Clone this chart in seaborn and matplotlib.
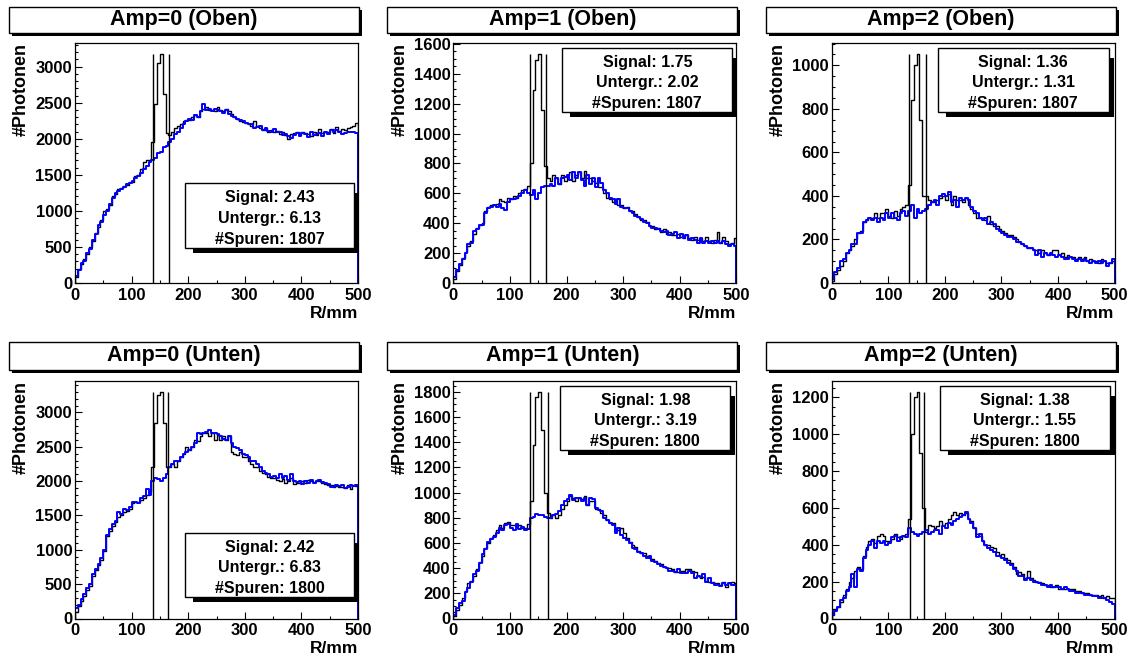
import numpy as np
import pandas as pd
import matplotlib
matplotlib.use("Agg")
import matplotlib.pyplot as plt
from matplotlib.patches import Rectangle
from matplotlib.ticker import MultipleLocator
import seaborn as sns

# Radial bins: 100 bins of 5 mm between 0 and 500 mm
r_edges = np.arange(0, 505, 5)
r_centers = (r_edges[:-1] + r_edges[1:]) / 2

titles = ["Amp=0 (Oben)", "Amp=1 (Oben)", "Amp=2 (Oben)",
          "Amp=0 (Unten)", "Amp=1 (Unten)", "Amp=2 (Unten)"]
signal = ["2.43", "1.75", "1.36", "2.42", "1.98", "1.38"]
untergrund = ["6.13", "2.02", "1.31", "6.83", "3.19", "1.55"]
spuren = [1807, 1807, 1807, 1800, 1800, 1800]

# signal window (mm) per panel
win_lo = [138, 136, 136.5, 138, 136, 139]
win_hi = [166, 164, 167.5, 163.5, 167.5, 164]

# y axis tick spacing per panel
y_major = [500, 200, 200, 500, 200, 200]
y_minor = [100, 50, 50, 100, 50, 50]

# photon counts per radial bin: all tracks (black) and background estimate (blue)
gesamt_amp0_oben = [
    80, 200, 260, 330, 400, 500, 580, 700, 780, 880,
    1000, 1020, 1080, 1200, 1230, 1300, 1320, 1340, 1360, 1400,
    1400, 1480, 1500, 1580, 1680, 1700, 1700, 1950, 2480, 3050,
    3170, 2620, 2080, 2050, 2100, 2150, 2180, 2200, 2250, 2260,
    2260, 2300, 2330, 2300, 2380, 2420, 2440, 2400, 2400, 2380,
    2440, 2400, 2380, 2420, 2380, 2340, 2300, 2280, 2250, 2230,
    2220, 2200, 2180, 2250, 2180, 2150, 2120, 2150, 2100, 2120,
    2090, 2110, 2060, 2100, 2050, 2000, 2060, 2080, 2090, 2050,
    2100, 2080, 2060, 2040, 2100, 2050, 2130, 2080, 2090, 2100,
    2130, 2080, 2160, 2110, 2140, 2120, 2150, 2170, 2180, 2220]
untergr_amp0_oben = [
    100, 180, 280, 300, 420, 470, 600, 680, 800, 850,
    950, 1000, 1100, 1180, 1250, 1280, 1300, 1330, 1370, 1380,
    1420, 1460, 1480, 1520, 1580, 1620, 1680, 1700, 1730, 1800,
    1820, 1880, 1900, 1950, 2000, 2070, 2100, 2150, 2200, 2250,
    2280, 2260, 2330, 2300, 2380, 2480, 2400, 2420, 2380, 2420,
    2400, 2380, 2360, 2400, 2340, 2320, 2300, 2280, 2260, 2250,
    2220, 2200, 2200, 2150, 2160, 2180, 2120, 2150, 2110, 2100,
    2130, 2090, 2100, 2050, 2060, 2040, 2010, 2050, 2080, 2040,
    2080, 2060, 2030, 2090, 2050, 2070, 2080, 2040, 2100, 2060,
    2120, 2090, 2120, 2100, 2060, 2080, 2100, 2100, 2090, 2080]

gesamt_amp1_oben = [
    30, 80, 120, 170, 210, 250, 280, 330, 370, 390,
    400, 480, 510, 520, 520, 530, 560, 550, 540, 570,
    560, 580, 570, 600, 620, 630, 650, 800, 1290, 1490,
    1530, 1160, 780, 700, 680, 720, 700, 660, 720, 680,
    720, 740, 680, 720, 740, 700, 750, 700, 700, 680,
    670, 640, 640, 600, 570, 560, 540, 560, 520, 520,
    500, 510, 480, 480, 460, 440, 420, 420, 410, 380,
    380, 360, 370, 340, 360, 330, 340, 320, 320, 330,
    310, 300, 320, 300, 290, 310, 290, 300, 280, 310,
    280, 270, 290, 340, 270, 310, 280, 260, 270, 300]
untergr_amp1_oben = [
    40, 90, 130, 160, 200, 260, 270, 350, 360, 390,
    390, 470, 500, 510, 520, 510, 530, 500, 490, 540,
    560, 560, 570, 580, 600, 620, 600, 590, 620, 560,
    600, 640, 650, 650, 660, 650, 700, 660, 700, 710,
    720, 690, 740, 700, 740, 690, 650, 720, 660, 700,
    640, 700, 670, 620, 600, 570, 560, 530, 560, 510,
    500, 500, 480, 470, 450, 440, 430, 410, 400, 380,
    370, 370, 360, 350, 340, 350, 320, 330, 340, 300,
    330, 300, 320, 290, 300, 290, 270, 300, 270, 280,
    270, 280, 270, 280, 270, 280, 260, 250, 260, 250]

gesamt_amp2_oben = [
    10, 40, 60, 80, 100, 140, 150, 170, 200, 230,
    240, 280, 290, 300, 300, 320, 300, 320, 320, 340,
    310, 300, 330, 310, 340, 350, 360, 450, 840, 1000,
    1050, 750, 400, 400, 380, 370, 380, 380, 390, 400,
    380, 410, 360, 400, 380, 380, 370, 390, 360, 340,
    320, 300, 300, 300, 290, 310, 270, 260, 260, 250,
    240, 230, 220, 220, 210, 200, 190, 180, 170, 160,
    160, 150, 150, 140, 150, 140, 130, 140, 150, 150,
    130, 140, 120, 130, 120, 120, 110, 120, 110, 120,
    100, 110, 100, 100, 90, 110, 100, 90, 90, 100]
untergr_amp2_oben = [
    20, 50, 70, 100, 110, 140, 150, 180, 180, 230,
    230, 280, 290, 300, 290, 300, 280, 300, 290, 320,
    300, 320, 300, 290, 320, 330, 310, 330, 360, 300,
    340, 320, 330, 340, 360, 370, 380, 360, 400, 410,
    400, 420, 370, 380, 350, 390, 380, 390, 380, 350,
    330, 320, 300, 290, 300, 270, 280, 270, 250, 240,
    230, 220, 210, 210, 200, 190, 190, 180, 170, 160,
    160, 150, 130, 150, 120, 140, 130, 140, 130, 120,
    130, 120, 110, 110, 120, 110, 100, 110, 100, 110,
    100, 90, 100, 90, 100, 90, 100, 80, 90, 110]

gesamt_amp0_unten = [
    100, 180, 260, 330, 420, 480, 620, 700, 780, 850,
    980, 1200, 1280, 1350, 1400, 1480, 1500, 1550, 1560, 1600,
    1680, 1700, 1700, 1720, 1760, 1800, 1850, 2200, 2840, 3250,
    3300, 2850, 2200, 2200, 2250, 2200, 2300, 2350, 2400, 2500,
    2450, 2500, 2600, 2580, 2650, 2700, 2700, 2650, 2700, 2600,
    2680, 2600, 2650, 2600, 2650, 2420, 2400, 2380, 2420, 2350,
    2350, 2300, 2250, 2200, 2200, 2150, 2120, 2100, 2060, 2050,
    2050, 2020, 2000, 2030, 1980, 2000, 2050, 1960, 1980, 1980,
    2000, 1980, 2020, 2000, 1990, 2010, 2000, 1980, 1960, 1950,
    1940, 1920, 1930, 1910, 1920, 1900, 1950, 1880, 1950, 1930]
untergr_amp0_unten = [
    150, 200, 280, 350, 450, 500, 650, 720, 800, 880,
    1000, 1220, 1300, 1380, 1420, 1550, 1520, 1600, 1580, 1620,
    1700, 1700, 1680, 1750, 1780, 1880, 1800, 2000, 2050, 2030,
    2000, 2050, 2100, 2200, 2250, 2300, 2300, 2350, 2400, 2420,
    2450, 2500, 2550, 2700, 2680, 2700, 2720, 2750, 2700, 2700,
    2680, 2650, 2620, 2600, 2650, 2550, 2500, 2480, 2450, 2400,
    2380, 2350, 2300, 2300, 2250, 2200, 2150, 2120, 2100, 2060,
    2080, 2050, 2100, 2040, 2080, 2010, 2100, 2000, 1990, 2000,
    1960, 2000, 1980, 2010, 1980, 2000, 2020, 1990, 1980, 1960,
    1920, 1920, 1950, 1930, 1950, 1900, 1920, 1950, 1930, 1950]

gesamt_amp1_unten = [
    20, 70, 110, 160, 220, 280, 300, 340, 390, 450,
    500, 560, 600, 640, 660, 700, 740, 720, 760, 770,
    740, 740, 730, 740, 720, 720, 750, 930, 1380, 1760,
    1800, 1500, 1000, 840, 800, 820, 800, 820, 870, 900,
    930, 970, 960, 930, 960, 950, 970, 900, 930, 930,
    870, 870, 840, 820, 780, 760, 760, 720, 700, 720,
    680, 640, 610, 580, 570, 540, 520, 520, 500, 480,
    470, 460, 440, 430, 410, 400, 400, 390, 370, 370,
    380, 380, 390, 390, 380, 370, 340, 320, 330, 300,
    290, 290, 280, 280, 270, 290, 250, 280, 290, 280]
untergr_amp1_unten = [
    30, 80, 120, 140, 210, 240, 290, 350, 380, 440,
    510, 550, 610, 630, 650, 680, 720, 700, 740, 750,
    720, 700, 750, 710, 730, 700, 710, 800, 810, 830,
    820, 820, 810, 800, 800, 820, 830, 850, 900, 930,
    950, 980, 940, 960, 960, 930, 960, 900, 960, 950,
    880, 860, 850, 800, 780, 760, 740, 680, 720, 660,
    640, 620, 600, 560, 550, 530, 520, 500, 480, 500,
    460, 450, 430, 420, 410, 400, 380, 380, 370, 390,
    360, 360, 360, 380, 360, 320, 340, 330, 350, 290,
    320, 280, 270, 270, 260, 280, 270, 280, 270, 270]

gesamt_amp2_unten = [
    20, 50, 60, 90, 130, 160, 200, 220, 260, 280,
    270, 340, 390, 420, 430, 410, 450, 460, 450, 420,
    420, 430, 460, 440, 430, 450, 460, 540, 1000, 1200,
    1230, 900, 600, 470, 510, 500, 490, 500, 530, 510,
    520, 540, 560, 580, 560, 570, 560, 570, 540, 530,
    490, 460, 450, 420, 400, 400, 390, 380, 360, 340,
    350, 330, 320, 300, 280, 240, 250, 240, 220, 260,
    220, 210, 200, 200, 190, 180, 180, 170, 170, 180,
    160, 160, 160, 160, 160, 160, 150, 150, 140, 140,
    140, 130, 130, 130, 120, 130, 110, 120, 110, 110]
untergr_amp2_unten = [
    20, 40, 60, 100, 110, 150, 170, 240, 170, 270,
    260, 330, 370, 400, 420, 380, 420, 410, 420, 400,
    410, 440, 450, 420, 440, 450, 440, 490, 470, 460,
    450, 460, 470, 480, 460, 470, 480, 480, 460, 500,
    490, 520, 510, 530, 540, 550, 560, 580, 540, 520,
    490, 440, 460, 420, 400, 380, 370, 360, 340, 340,
    330, 320, 300, 290, 270, 260, 230, 230, 210, 220,
    210, 200, 200, 190, 180, 180, 170, 180, 170, 170,
    170, 160, 170, 160, 150, 150, 140, 140, 140, 130,
    130, 130, 120, 120, 110, 110, 110, 100, 90, 80]

gesamt = [gesamt_amp0_oben, gesamt_amp1_oben, gesamt_amp2_oben,
          gesamt_amp0_unten, gesamt_amp1_unten, gesamt_amp2_unten]
untergr = [untergr_amp0_oben, untergr_amp1_oben, untergr_amp2_oben,
           untergr_amp0_unten, untergr_amp1_unten, untergr_amp2_unten]

sns.set_style("white")
plt.rcParams["font.family"] = ["Liberation Sans", "DejaVu Sans"]
plt.rcParams["font.weight"] = "bold"
plt.rcParams["text.color"] = "black"
plt.rcParams["axes.labelcolor"] = "black"
plt.rcParams["xtick.color"] = "black"
plt.rcParams["ytick.color"] = "black"

W, H = 1135, 666
fig = plt.figure(figsize=(W / 100, H / 100), dpi=100)
fig.patch.set_facecolor("white")

PAD_W, PAD_H = W / 3, H / 2


def fx(x):
    return x / W


def fy(y):
    return 1 - y / H


def box_with_shadow(x0, y0, x1, y1, dx, dy, sx0, sy0):
    """White framed box with a black drop shadow to the lower right."""
    fig.patches.append(Rectangle((fx(x1), fy(y1 + dy)), dx / W, (y1 + dy - (y0 + sy0)) / H,
                                 transform=fig.transFigure, facecolor="black",
                                 edgecolor="none", zorder=5))
    fig.patches.append(Rectangle((fx(x0 + sx0), fy(y1 + dy)), (x1 + dx - (x0 + sx0)) / W, dy / H,
                                 transform=fig.transFigure, facecolor="black",
                                 edgecolor="none", zorder=5))
    fig.patches.append(Rectangle((fx(x0), fy(y1)), (x1 - x0) / W, (y1 - y0) / H,
                                 transform=fig.transFigure, facecolor="white",
                                 edgecolor="black", linewidth=1.0, zorder=6))


# axes frame, title box and stats box positions inside each pad (pixels)
axes_y = [(43, 283), (47.5, 285.5)]
title_y = [(7, 33), (8.5, 37)]
stats_pos = [(185, 183, 354, 248), (184, 48, 354, 112), (181, 48, 352, 112),
             (185, 200, 354, 264), (182, 53, 352, 117), (183, 53, 353, 117)]

for i in range(6):
    row, col = divmod(i, 3)
    ox, oy = col * PAD_W, row * PAD_H
    ay0, ay1 = axes_y[row]
    ax = fig.add_axes([fx(ox + 75), fy(oy + ay1), 283 / W, (ay1 - ay0) / H])

    df = pd.DataFrame({"r": r_centers,
                       "gesamt": np.asarray(gesamt[i], dtype=float),
                       "untergr": np.asarray(untergr[i], dtype=float)})

    sns.histplot(data=df, x="r", weights="gesamt", binwidth=5, binrange=(0, 500),
                 element="step", fill=False, color="black", linewidth=1.0, ax=ax)
    ax.vlines([r_edges[0], r_edges[-1]], 0, [df["gesamt"].iloc[0], df["gesamt"].iloc[-1]],
              color="black", linewidth=1.0)
    sns.histplot(data=df, x="r", weights="untergr", binwidth=5, binrange=(0, 500),
                 element="step", fill=False, color="#0000ff", linewidth=1.4, ax=ax)
    ax.vlines([r_edges[0], r_edges[-1]], 0, [df["untergr"].iloc[0], df["untergr"].iloc[-1]],
              color="#0000ff", linewidth=1.4)

    peak = df["gesamt"].max()
    ax.vlines([win_lo[i], win_hi[i]], 0, peak, color="black", linewidth=1.0)

    ax.set_xlim(0, 500)
    ax.set_ylim(0, 1.05 * peak)
    ax.xaxis.set_major_locator(MultipleLocator(100))
    ax.xaxis.set_minor_locator(MultipleLocator(50))
    ax.yaxis.set_major_locator(MultipleLocator(y_major[i]))
    ax.yaxis.set_minor_locator(MultipleLocator(y_minor[i]))
    ax.tick_params(which="both", direction="in", top=False, right=False,
                   bottom=True, left=True, width=0.8, colors="black")
    ax.tick_params(which="major", length=5)
    ax.tick_params(which="minor", length=2.5)
    ax.tick_params(axis="x", pad=3.5, labelsize=12)
    ax.tick_params(axis="y", pad=2, labelsize=12)
    for lab in ax.get_xticklabels() + ax.get_yticklabels():
        lab.set_fontweight("bold")
        lab.set_color("black")
    for sp in ax.spines.values():
        sp.set_visible(True)
        sp.set_color("black")
        sp.set_linewidth(0.9)

    ax.set_xlabel("R/mm", fontsize=12.5, fontweight="bold", ha="right", va="top",
                  color="black")
    ax.xaxis.set_label_coords(1.0, -0.095)
    ax.set_ylabel("#Photonen", fontsize=13, fontweight="bold", ha="right", va="baseline",
                  color="black")
    ax.yaxis.set_label_coords(-0.173, 1.0)

    # title box
    ty0, ty1 = title_y[row]
    box_with_shadow(ox + 9, oy + ty0, ox + 359, oy + ty1, 3, 3, 3, 3)
    fig.text(fx(ox + 184), fy(oy + (ty0 + ty1) / 2), titles[i], ha="center",
             va="center", fontsize=15.5, fontweight="bold", color="black", zorder=7)

    # statistics box
    sx0, sy0, sx1, sy1 = stats_pos[i]
    box_with_shadow(ox + sx0, oy + sy0, ox + sx1, oy + sy1, 5, 5, 8, 10)
    lines = [f"Signal: {signal[i]}", f"Untergr.: {untergrund[i]}", f"#Spuren: {spuren[i]}"]
    hgt = sy1 - sy0
    for frac, txt in zip([0.23, 0.545, 0.87], lines):
        fig.text(fx(ox + (sx0 + sx1) / 2), fy(oy + sy0 + frac * hgt), txt,
                 ha="center", va="center", fontsize=11.5, fontweight="bold",
                 color="black", zorder=7)

fig.savefig("out.png", dpi=100, facecolor="white")
